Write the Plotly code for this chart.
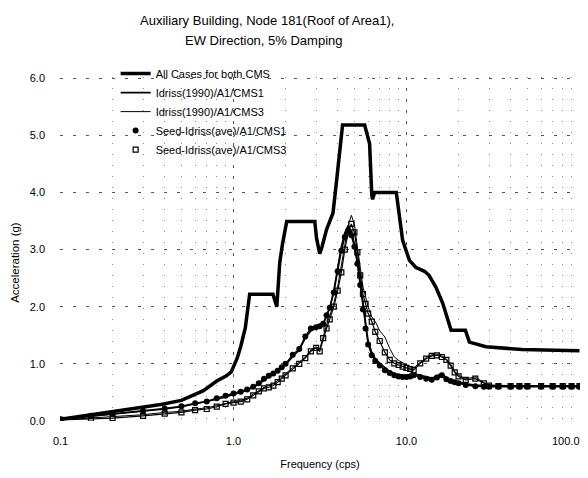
import math
import plotly.graph_objects as go

# ---- data ----
env_freq = [0.1, 0.16, 0.24, 0.38, 0.5, 0.67, 0.8, 0.91, 0.97, 1.05, 1.1, 1.17, 1.24, 1.69, 1.78,
            1.85, 1.92, 2.03, 2.95, 3.02, 3.15, 3.25, 3.45, 3.76, 4.0, 4.27, 5.73, 6.12, 6.3, 6.37,
            6.54, 8.73, 9.5, 10.0, 10.4, 11.3, 12.7, 13.5, 14.8, 16.2, 17.2, 18.1, 21.9, 23.1,
            28.8, 46.5, 100.0]
env_acc = [0.03, 0.12, 0.20, 0.29, 0.36, 0.53, 0.70, 0.79, 0.86, 1.10, 1.30, 1.63, 2.22, 2.22, 2.00,
           2.77, 3.10, 3.49, 3.49, 3.20, 2.93, 3.05, 3.35, 3.64, 4.38, 5.18, 5.18, 4.85, 3.95, 3.88,
           4.00, 4.00, 3.16, 2.95, 2.81, 2.69, 2.62, 2.55, 2.34, 2.06, 1.80, 1.59, 1.59, 1.38,
           1.30, 1.25, 1.23]

freq = [0.1, 0.15, 0.2, 0.3, 0.4, 0.5, 0.6, 0.7, 0.8, 0.9, 1.0, 1.1, 1.2, 1.3, 1.4, 1.5, 1.6, 1.7,
        1.8, 1.9, 2.0, 2.2, 2.4, 2.6, 2.8, 3.0, 3.15, 3.3, 3.45, 3.6, 3.8, 4.0, 4.2, 4.4, 4.6, 4.8,
        5.0, 5.2, 5.4, 5.6, 5.8, 6.0, 6.3, 6.6, 7.0, 7.5, 8.0, 8.5, 9.0, 9.5, 10, 10.5, 11, 12, 13,
        14, 15, 16, 17, 18, 19, 20, 22, 25, 28, 30, 34, 40, 45, 50, 60, 70, 80, 90, 100]

idriss_cms1 = [0.03, 0.08, 0.12, 0.17, 0.21, 0.25, 0.30, 0.33, 0.38, 0.42, 0.46, 0.50, 0.54, 0.59,
               0.64, 0.71, 0.77, 0.82, 0.87, 0.92, 0.98, 1.13, 1.24, 1.45, 1.58, 1.62, 1.65, 1.70,
               1.84, 1.98, 2.28, 2.68, 3.05, 3.30, 3.42, 3.32, 3.10, 2.80, 2.42, 2.00, 1.68, 1.40,
               1.20, 1.09, 1.01, 0.93, 0.87, 0.83, 0.81, 0.80, 0.80, 0.81, 0.83, 0.80, 0.77, 0.75,
               0.79, 0.83, 0.76, 0.72, 0.70, 0.68, 0.65, 0.63, 0.61, 0.61, 0.61, 0.61, 0.61, 0.61,
               0.61, 0.61, 0.61, 0.61, 0.61]

idriss_cms3 = [0.02, 0.05, 0.07, 0.11, 0.15, 0.17, 0.21, 0.23, 0.27, 0.31, 0.34, 0.36, 0.40, 0.47,
               0.54, 0.59, 0.62, 0.65, 0.71, 0.77, 0.83, 0.94, 1.02, 1.12, 1.24, 1.30, 1.26, 1.50,
               1.68, 1.84, 2.06, 2.35, 2.70, 3.10, 3.42, 3.60, 3.45, 3.05, 2.65, 2.35, 2.18, 2.00,
               1.82, 1.74, 1.58, 1.47, 1.27, 1.12, 1.06, 1.02, 0.98, 0.95, 0.93, 1.03, 1.11, 1.16,
               1.17, 1.14, 1.09, 0.99, 0.87, 0.80, 0.74, 0.77, 0.67, 0.63, 0.62, 0.62, 0.62, 0.62,
               0.62, 0.62, 0.62, 0.62, 0.62]

seed_cms1 = [0.03, 0.09, 0.13, 0.18, 0.22, 0.26, 0.31, 0.34, 0.40, 0.44, 0.48, 0.51, 0.55, 0.60,
             0.66, 0.74, 0.79, 0.83, 0.88, 0.94, 1.00, 1.16, 1.26, 1.48, 1.62, 1.64, 1.66, 1.70,
             1.85, 1.98, 2.25, 2.62, 2.98, 3.22, 3.33, 3.25, 3.05, 2.75, 2.38, 1.95, 1.62, 1.34,
             1.15, 1.05, 0.97, 0.89, 0.84, 0.80, 0.78, 0.77, 0.77, 0.78, 0.80, 0.77, 0.74, 0.72,
             0.76, 0.80, 0.73, 0.70, 0.68, 0.66, 0.63, 0.61, 0.60, 0.60, 0.60, 0.60, 0.60, 0.60,
             0.60, 0.60, 0.60, 0.60, 0.60]

seed_cms3 = [0.02, 0.04, 0.05, 0.09, 0.13, 0.15, 0.19, 0.21, 0.25, 0.30, 0.32, 0.34, 0.38, 0.45,
             0.52, 0.57, 0.59, 0.62, 0.68, 0.74, 0.80, 0.92, 1.00, 1.10, 1.22, 1.28, 1.22, 1.45,
             1.62, 1.78, 2.00, 2.28, 2.60, 3.00, 3.30, 3.45, 3.30, 2.95, 2.55, 2.22, 2.05, 1.88,
             1.74, 1.56, 1.40, 1.20, 1.07, 1.01, 0.98, 0.95, 0.93, 0.91, 0.89, 1.01, 1.09, 1.14,
             1.15, 1.12, 1.07, 0.97, 0.85, 0.78, 0.72, 0.74, 0.66, 0.62, 0.61, 0.61, 0.61, 0.61,
             0.61, 0.61, 0.61, 0.61, 0.61]

x_ticks = [0.1, 1, 10, 100]
x_ticktext = ["0.1", "1.0", "10.0", "100.0"]
y_ticks = [0, 1, 2, 3, 4, 5, 6]
y_ticktext = ["0.0", "1.0", "2.0", "3.0", "4.0", "5.0", "6.0"]
title_lines = ["Auxiliary Building, Node 181(Roof of Area1),", "EW Direction, 5% Damping"]

FONT = "Liberation Sans, Arial, sans-serif"
fig = go.Figure()

fig.add_trace(go.Scatter(x=env_freq, y=env_acc, mode="lines", name="All Cases for both CMS",
                         line=dict(color="black", width=3.5)))
fig.add_trace(go.Scatter(x=freq, y=idriss_cms1, mode="lines", name="Idriss(1990)/A1/CMS1",
                         line=dict(color="black", width=1.6)))
fig.add_trace(go.Scatter(x=freq, y=idriss_cms3, mode="lines", name="Idriss(1990)/A1/CMS3",
                         line=dict(color="black", width=1)))
fig.add_trace(go.Scatter(x=freq, y=seed_cms1, mode="lines", showlegend=False,
                         legendgroup="s1", line=dict(color="black", width=1.5)))
fig.add_trace(go.Scatter(x=freq, y=seed_cms1, mode="markers", name="Seed-Idriss(ave)/A1/CMS1",
                         legendgroup="s1",
                         marker=dict(symbol="circle", size=6, color="black")))
fig.add_trace(go.Scatter(x=freq, y=seed_cms3, mode="lines", showlegend=False,
                         legendgroup="s3", line=dict(color="black", width=1.2)))
fig.add_trace(go.Scatter(x=freq, y=seed_cms3, mode="markers", name="Seed-Idriss(ave)/A1/CMS3",
                         legendgroup="s3",
                         marker=dict(symbol="square-open", size=5, color="black",
                                     line=dict(width=1.2, color="black"))))

annotations = [
    dict(text=title_lines[0], xref="paper", yref="paper", x=0.398, y=1.163,
         xanchor="center", yanchor="middle", showarrow=False, font=dict(size=13)),
    dict(text=title_lines[1], xref="paper", yref="paper", x=0.392, y=1.105,
         xanchor="center", yanchor="middle", showarrow=False, font=dict(size=13)),
    dict(text="Acceleration (g)", xref="paper", yref="paper", x=-0.087, y=0.462,
         xanchor="center", yanchor="middle", textangle=-90, showarrow=False,
         font=dict(size=11.5)),
    # last x tick label, right-aligned at its tick so it stays inside the page (as in the reference)
    dict(text=x_ticktext[-1], xref="x", yref="paper", x=math.log10(x_ticks[-1]), y=-0.058,
         xanchor="right", yanchor="middle", xshift=3, showarrow=False, font=dict(size=11)),
]

fig.update_layout(
    width=588, height=478,
    margin=dict(l=60, r=8, t=77, b=57, autoexpand=False),
    paper_bgcolor="white", plot_bgcolor="white",
    font=dict(family=FONT, color="black", size=11),
    annotations=annotations,
    legend=dict(x=0.107, y=1.052, xanchor="left", yanchor="top", bgcolor="rgba(0,0,0,0)",
                font=dict(size=11), itemwidth=30, tracegroupgap=0),
    showlegend=True,
)

fig.update_xaxes(type="log", range=[-1.003, 2.003], tickvals=x_ticks[:-1],
                 ticktext=x_ticktext[:-1], automargin=False,
                 showline=False, zeroline=False, ticks="", ticklabelstandoff=12,
                 showgrid=True, gridcolor="#555", griddash="3px,8px", gridwidth=1,
                 minor=dict(showgrid=True, gridcolor="#888", griddash="1px,10px", gridwidth=1,
                            dtick="D1"),
                 title=dict(text="Frequency (cps)", standoff=14, font=dict(size=11)),
                 tickfont=dict(size=11))
fig.update_yaxes(range=[0, 6.02], tickvals=y_ticks, ticktext=y_ticktext, automargin=False,
                 showline=False, zeroline=False, ticks="", ticklabelstandoff=14,
                 showgrid=True, gridcolor="#555", griddash="3px,10px", gridwidth=1,
                 tickfont=dict(size=11))

fig.write_html("out.html")
